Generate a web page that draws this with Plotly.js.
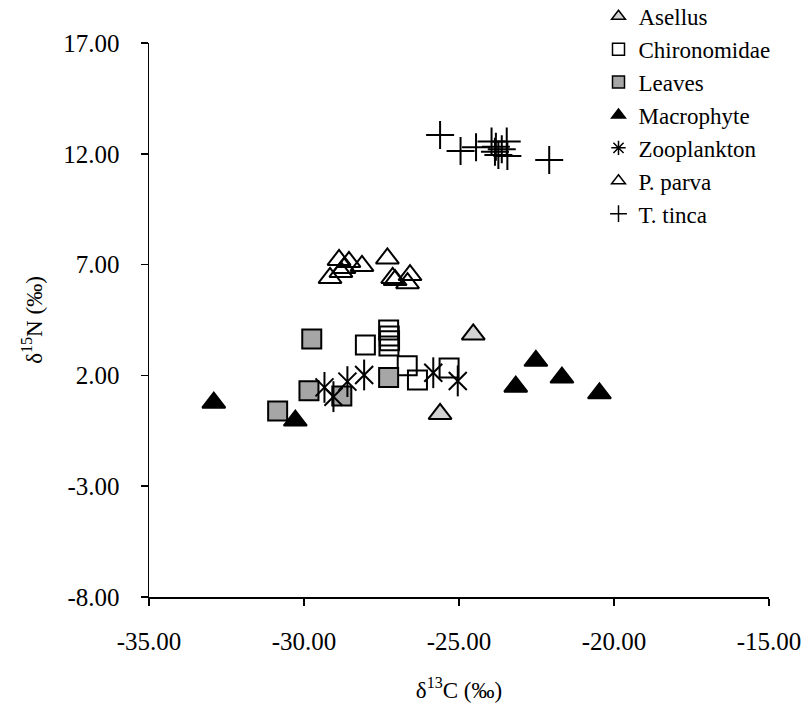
<!DOCTYPE html>
<html>
<head>
<meta charset="utf-8">
<script src="https://cdn.plot.ly/plotly-3.0.1.min.js"></script>
<style>html,body{margin:0;padding:0;background:#fff;}#chart{width:811px;height:718px;}</style>
</head>
<body>
<div id="chart"></div>
<script>
// Data (δ13C, δ15N)
var seriesNames = ["Asellus", "Chironomidae", "Leaves", "Macrophyte", "Zooplankton", "P. parva", "T. tinca"];

var asellusX = [-24.54, -25.61];
var asellusY = [3.85, 0.26];

var chiroX = [-28.02, -27.27, -27.25, -27.24, -27.26, -26.67, -26.34, -25.32];
var chiroY = [3.37, 4.05, 3.78, 3.56, 3.33, 2.44, 1.79, 2.33];

var leavesX = [-29.75, -29.84, -30.85, -28.78, -27.27];
var leavesY = [3.64, 1.31, 0.39, 1.07, 1.91];

var macroX = [-32.91, -30.28, -23.17, -22.52, -21.68, -20.47];
var macroY = [0.77, -0.04, 1.49, 2.66, 1.90, 1.19];

var zooX = [-29.34, -29.05, -28.60, -28.06, -25.83, -25.04];
var zooY = [1.46, 1.04, 1.72, 2.02, 2.12, 1.75];

var parvaX = [-29.16, -28.81, -28.87, -28.55, -28.13, -28.71, -27.31, -27.06, -26.58, -26.66, -27.14];
var parvaY = [6.40, 6.67, 7.21, 7.12, 6.94, 6.85, 7.28, 6.30, 6.53, 6.16, 6.40];

var tincaX = [-25.61, -24.95, -24.45, -23.95, -23.81, -23.73, -23.84, -23.46, -23.62, -23.44, -22.09];
var tincaY = [12.85, 12.13, 12.29, 12.55, 12.32, 11.95, 12.09, 12.55, 12.20, 11.90, 11.72];

var xTickVals = [-35, -30, -25, -20, -15];
var xTickText = ["-35.00", "-30.00", "-25.00", "-20.00", "-15.00"];
var yTickVals = [-8, -3, 2, 7, 12, 17];
var yTickText = ["-8.00", "-3.00", "2.00", "7.00", "12.00", "17.00"];

var FONT = "Times New Roman, Liberation Serif, DejaVu Serif, serif";
var BIG = 20;
var LEG = 12;

var styles = [
  {symbol: "triangle-up", color: "#d3d3d3", line: {color: "#000", width: 2}},
  {symbol: "square", color: "rgba(255,255,255,0)", line: {color: "#000", width: 2}},
  {symbol: "square", color: "#a6a6a6", line: {color: "#000", width: 2}},
  {symbol: "triangle-up", color: "#000", line: {color: "#000", width: 2}},
  {symbol: "x-thin-open", color: "#000", line: {color: "#000", width: 2}},
  {symbol: "triangle-up-open", color: "#000", line: {color: "#000", width: 2}},
  {symbol: "cross-thin-open", color: "#000", line: {color: "#000", width: 2}}
];
var xs = [asellusX, chiroX, leavesX, macroX, zooX, parvaX, tincaX];
var ys = [asellusY, chiroY, leavesY, macroY, zooY, parvaY, tincaY];
var sizes = [BIG, 19, 19, BIG, 18, BIG, 20];

var traces = [];
for (var i = 0; i < seriesNames.length; i++) {
  traces.push({
    type: "scatter", mode: "markers", name: seriesNames[i], x: xs[i], y: ys[i],
    showlegend: false,
    marker: {symbol: styles[i].symbol, size: sizes[i], color: styles[i].color, line: styles[i].line}
  });
  if (i === 4) {
    traces.push({
      type: "scatter", mode: "markers", x: zooX, y: zooY, showlegend: false,
      marker: {symbol: "line-ns-open", size: 22, color: "#000", line: {color: "#000", width: 2}}
    });
  }
}
for (var j = 0; j < seriesNames.length; j++) {
  traces.push({
    type: "scatter", mode: "markers", name: seriesNames[j], x: [null], y: [null],
    showlegend: true,
    marker: {symbol: j === 4 ? "asterisk-open" : styles[j].symbol, size: LEG, color: styles[j].color,
             line: {color: "#000", width: 1.5}}
  });
}

var layout = {
  width: 811, height: 718,
  margin: {l: 149, r: 42, t: 43, b: 121, autoexpand: false},
  paper_bgcolor: "#fff", plot_bgcolor: "#fff",
  font: {family: FONT, size: 24, color: "#000"},
  showlegend: true,
  legend: {x: 0.725, y: 1.087, xanchor: "left", yanchor: "top", bgcolor: "rgba(0,0,0,0)",
           font: {family: FONT, size: 23, color: "#000"}, tracegroupgap: 0, itemwidth: 30},
  xaxis: {
    range: [-35, -15], tickvals: xTickVals, ticktext: xTickText, automargin: false,
    showline: true, linecolor: "#000", linewidth: 1.5, mirror: false,
    ticks: "outside", ticklen: 7, tickwidth: 1.5, tickcolor: "#000",
    showgrid: false, zeroline: false, ticklabelstandoff: 14,
    tickfont: {family: FONT, size: 25, color: "#000"},
    title: {text: "δ<sup>13</sup>C (‰)", font: {family: FONT, size: 23, color: "#000"}, standoff: 28}
  },
  yaxis: {
    range: [-8, 17], tickvals: yTickVals, ticktext: yTickText, automargin: false,
    showline: true, linecolor: "#000", linewidth: 1.5,
    ticks: "outside", ticklen: 7, tickwidth: 1.5, tickcolor: "#000",
    showgrid: false, zeroline: false, ticklabelstandoff: 16,
    tickfont: {family: FONT, size: 25, color: "#000"},
    title: {text: "δ<sup>15</sup>N (‰)", font: {family: FONT, size: 23, color: "#000"}, standoff: 14}
  }
};

Plotly.newPlot("chart", traces, layout, {staticPlot: true, displayModeBar: false});
</script>
</body>
</html>
